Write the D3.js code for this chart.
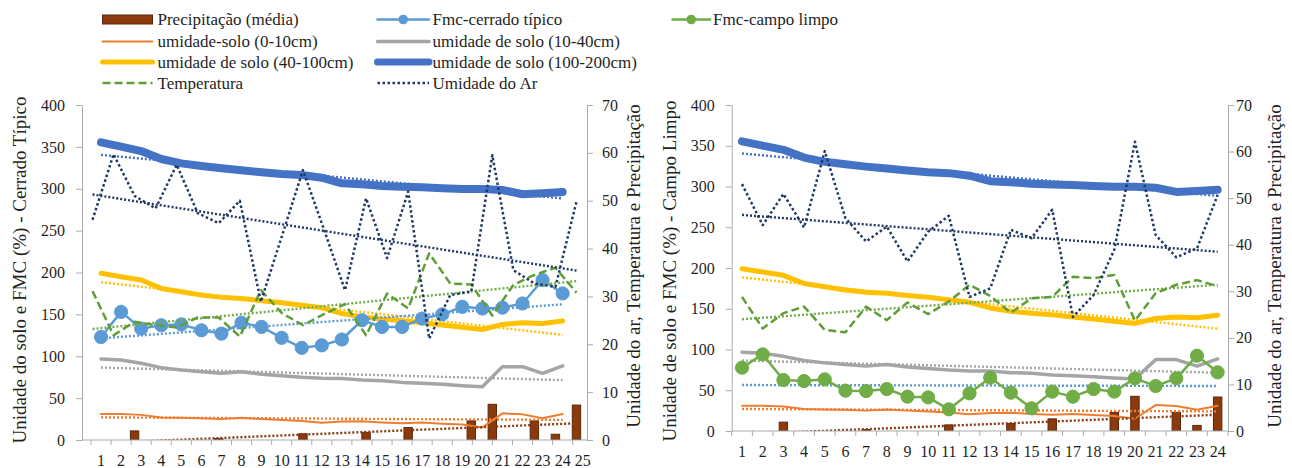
<!DOCTYPE html>
<html><head><meta charset="utf-8">
<script src="https://cdn.jsdelivr.net/npm/d3@7"></script>
<style>
body{margin:0;background:#fff;}
</style></head><body>
<svg id="c" width="1292" height="468"></svg>
<script>
// ---------------- DATA ----------------
const catsLeft = ["1","2","3","4","5","6","7","8","9","10","11","12","13","14","15","16","17","18","19","20","21","22","23","24","25"];
const catsRight = ["1","2","3","4","5","6","7","8","9","10","11","12","13","14","15","16","17","18","19","20","21","22","23","24"];
const yTicksLeft = [0,50,100,150,200,250,300,350,400];
const yTicksRight = [0,10,20,30,40,50,60,70];

const soil0_10   = [31,31,30,27,26.5,26,25,26.5,25,24,22.7,20.7,22,22.5,21,20,21,19.5,18.5,15,31.8,30.6,26,31];
const soil10_40  = [96.7,95.5,91.6,86.4,83.6,81.6,79.6,81.6,78.4,76.8,74.8,73.6,73.5,71.6,70.8,68.8,67.7,66.5,64.9,63.7,87.6,87.6,79.6,88.4];
const soil40_100 = [199,195,191,181,177,173,170.3,169,166.3,164,161,158,151,147,144.5,142.5,140,137.3,134.6,132,138,140,139,142];
const soil100_200= [355.4,350.2,345,335.5,330.3,327.2,324.4,322,319.6,317.6,316.4,313.2,306.5,305.3,303.3,302.5,301.7,300.5,299.7,299.7,298.5,293.4,294.5,296];
const fmcCerrado = [123,153,133,137,138,131,127,140,135,122,110,113,120,143,135,135,145,150,159,157,158,163,191,175];
const fmcCampo   = [77.7,94,62.6,61.3,63.4,49.5,49,51.5,42.1,41.3,26.6,46.2,65.4,47,27.8,48.3,42.1,51.5,48.3,64.6,55.2,64.6,92.4,72];
const precip     = [0,0,1.9,0,0,0,0.3,0,0,0,1.3,0,0,1.6,0,2.6,0,0,4.0,7.45,0,4.0,1.2,7.3];
const tempCerrado= [31.1,21.9,24.7,24,23.5,25.6,25.6,21.6,31.3,26.5,24,26.3,28.4,21.9,30.6,27.5,39,32.7,32.5,26,32.4,34.5,36,30.8];
const humCerrado = [46,59.7,51,48.4,57.5,47.4,45.3,50,28.9,42.6,56.4,44,31.3,50.5,38,51.9,21.2,30.3,31,59.5,35.5,32.7,32,49.8];
const tempCampo  = [28.8,22,25.3,26.7,21.7,21.2,26.7,23.8,27.6,25.1,27.8,31.4,29,25.4,28.5,28.8,33.1,32.8,33.5,23.7,29.6,31.4,32.4,31.1];
const humCampo   = [53,44.2,50.9,43.7,60.1,45.7,40.7,43.9,36.4,42.8,46.2,28.8,30.6,43.2,41.4,47.5,24.5,29.2,38.9,62.1,42.1,37.3,39.2,50.7];

// trendline values at first and last category
const trend0_10       = [27,24];
const trend10_40      = [86.5,71.5];
const trend40_100     = [188.5,125.5];
const trend100_200    = [340.5,288.5];
const trendFmcCerrado = [121.4,162];
const trendFmcCampo   = [56.4,55.2];
const trendTempCerrado= [23.2,33.2];
const trendHumCerrado = [51.3,35.4];
const trendTempCampo  = [24,31.4];
const trendHumCampo   = [46.4,38.5];
const trendPrecip     = [-0.7,3.5];

const legendLabels = ["Precipitação (média)","Fmc-cerrado típico","Fmc-campo limpo","umidade-solo (0-10cm)","umidade de solo (10-40cm)","umidade de solo (40-100cm)","umidade de solo (100-200cm)","Temperatura","Umidade do Ar"];
const titleLeft1 = "Unidade do solo e FMC (%) - Cerrado Típico";
const titleLeft2 = "Unidade de solo e FMC (%) - Campo Limpo";
const titleRight = "Unidade do ar, Temperatura e Precipitação";

// ---------------- STYLE ----------------
const FONT = "Liberation Serif, Times New Roman, DejaVu Serif, serif";
const TXT = "#1f1f1f";
const ST = {
  s0:{c:"#ED7D31",w:2},
  s1:{c:"#A5A5A5",w:3.5},
  s2:{c:"#FFC000",w:5},
  s3:{c:"#4472C4",w:8},
  fmcC:{c:"#5B9BD5",w:2.5},
  fmcL:{c:"#70AD47",w:2.5},
  temp:{c:"#5E9E37",w:2.5,dash:"8,4"},
  hum:{c:"#203864",w:2.5,dash:"2.5,2.5"},
  bar:{f:"#8B3A0E",s:"#5C2608"}
};
const axisColor = "#ababab";
const trendDash = "2,2";

const svg = d3.select("#c");

function drawChart(cfg){
  const g = svg.append("g");
  const yL = d3.scaleLinear().domain([0,400]).range([cfg.bottom,cfg.top]);
  const yR = d3.scaleLinear().domain([0,70]).range([cfg.bottom,cfg.top]);
  const xP = d3.scaleBand().domain(cfg.primCats).range(cfg.primRange);
  const xS = d3.scaleBand().domain(catsRight).range([cfg.left,cfg.right]);
  const P = {cats:cfg.primCats, cx:c=>xP(c)+xP.bandwidth()/2};
  const S = {cats:catsRight, cx:c=>xS(c)+xS.bandwidth()/2};

  const clipId = "clip"+cfg.id;
  svg.append("clipPath").attr("id",clipId).append("rect")
    .attr("x",cfg.left).attr("y",cfg.top-12).attr("width",cfg.right-cfg.left).attr("height",cfg.bottom-cfg.top+12);
  const plot = g.append("g").attr("clip-path",`url(#${clipId})`);

  const linePath = (vals,ax,y)=>d3.line().x((d,i)=>ax.cx(ax.cats[i])).y(d=>y(d))(vals);
  const trendPath = (tv,ax,y)=>d3.line().x((d,i)=>ax.cx(i===0?ax.cats[0]:ax.cats[23])).y(d=>y(d))(tv);
  function trend(tv,ax,y,color){
    plot.append("path").attr("d",trendPath(tv,ax,y)).attr("fill","none")
      .attr("stroke",color).attr("stroke-width",2.4).attr("stroke-dasharray",trendDash);
  }
  function series(vals,ax,y,st,markers){
    plot.append("path").attr("d",linePath(vals,ax,y)).attr("fill","none")
      .attr("stroke",st.c).attr("stroke-width",st.w).attr("stroke-linejoin","round")
      .attr("stroke-linecap",st.dash?"butt":"round").attr("stroke-dasharray",st.dash||null);
    if(markers){
      plot.selectAll(null).data(vals).enter().append("circle")
        .attr("cx",(d,i)=>ax.cx(ax.cats[i])).attr("cy",d=>y(d)).attr("r",6.6)
        .attr("fill",st.c).attr("stroke",st.c).attr("stroke-width",1);
    }
  }

  // bars (secondary axis)
  plot.selectAll("rect.bar").data(precip.map((v,i)=>({v,c:catsRight[i]})).filter(d=>d.v>0)).enter().append("rect")
    .attr("class","bar")
    .attr("x",d=>S.cx(d.c)-4.2).attr("width",8.4)
    .attr("y",d=>yR(d.v)).attr("height",d=>cfg.bottom-yR(d.v))
    .attr("fill",ST.bar.f).attr("stroke",ST.bar.s).attr("stroke-width",1);

  // primary
  trend(trend0_10,P,yL,ST.s0.c);         series(soil0_10,P,yL,ST.s0);
  trend(trend10_40,P,yL,ST.s1.c);        series(soil10_40,P,yL,ST.s1);
  trend(trend40_100,P,yL,ST.s2.c);       series(soil40_100,P,yL,ST.s2);
  trend(trend100_200,P,yL,ST.s3.c);      series(soil100_200,P,yL,ST.s3);
  trend(cfg.fmcTrend,P,yL,ST.fmcC.c);    series(cfg.fmc,P,yL,cfg.fmcStyle,true);
  // secondary
  trend(trendPrecip,S,yR,ST.bar.f);
  trend(cfg.tempTrend,S,yR,"#70AD47");   series(cfg.temp,S,yR,ST.temp);
  trend(cfg.humTrend,S,yR,ST.hum.c);     series(cfg.hum,S,yR,ST.hum);

  // axes
  const fontAx = sel=>sel.attr("font-family",FONT).attr("font-size",16);
  const ax1 = g.append("g").attr("transform",`translate(${cfg.left},0)`)
    .call(d3.axisLeft(yL).tickValues(yTicksLeft).tickSize(6).tickSizeOuter(0).tickPadding(11)).call(fontAx);
  const ax2 = g.append("g").attr("transform",`translate(${cfg.right},0)`)
    .call(d3.axisRight(yR).tickValues(yTicksRight).tickSize(6).tickSizeOuter(0).tickPadding(cfg.rPad)).call(fontAx);
  const ax3 = g.append("g").attr("transform",`translate(0,${cfg.bottom})`)
    .call(d3.axisBottom(xP).tickSize(0).tickPadding(14.5)).call(fontAx);
  ax3.select(".domain").remove();
  g.append("line").attr("x1",cfg.left).attr("x2",cfg.right).attr("y1",cfg.bottom).attr("y2",cfg.bottom).attr("stroke",axisColor);
  const last = cfg.primCats[cfg.primCats.length-1];
  const tickXs = cfg.primCats.map(c=>xP(c)).concat([xP(last)+xP.bandwidth()]).filter(x=>x<=cfg.right+0.5);
  g.selectAll(null).data(tickXs).enter().append("line")
    .attr("x1",d=>d).attr("x2",d=>d).attr("y1",cfg.bottom).attr("y2",cfg.bottom+5).attr("stroke",axisColor);
  [ax1,ax2].forEach(a=>{a.selectAll("path,line").attr("stroke",axisColor);});
  g.selectAll(".tick text").attr("fill",TXT);

  // titles
  g.append("text").attr("transform",`translate(${cfg.lTitleX},${cfg.lTitleY}) rotate(-90)`)
    .attr("text-anchor","middle").attr("font-family",FONT).attr("font-size",cfg.titleSize).attr("fill",TXT).text(cfg.lTitle);
  g.append("text").attr("transform",`translate(${cfg.rTitleX},${cfg.rTitleY}) rotate(-90)`)
    .attr("text-anchor","middle").attr("font-family",FONT).attr("font-size",cfg.titleSize).attr("fill",TXT).text(titleRight);
}

const stepL = 20.07;
drawChart({id:"L",left:82,right:587,top:105,bottom:440,primCats:catsLeft,primRange:[91,91+25*stepL],
  fmc:fmcCerrado,fmcTrend:trendFmcCerrado,fmcStyle:ST.fmcC,temp:tempCerrado,tempTrend:trendTempCerrado,
  hum:humCerrado,humTrend:trendHumCerrado,rPad:9,titleSize:19,lTitle:titleLeft1,lTitleX:26,lTitleY:270,rTitleX:640,rTitleY:266});
drawChart({id:"R",left:731.7,right:1228,top:105,bottom:431,primCats:catsRight,primRange:[731.7,1228],
  fmc:fmcCampo,fmcTrend:trendFmcCampo,fmcStyle:ST.fmcL,temp:tempCampo,tempTrend:trendTempCampo,
  hum:humCampo,humTrend:trendHumCampo,rPad:2,titleSize:19,lTitle:titleLeft2,lTitleX:676,lTitleY:271,rTitleX:1281,rTitleY:266});

// legend
const colSym = [[102.5,152.5],[377.5,429],[672.5,710]];
const colTxt = [157.5,432.5,713];
const rowY = [19.5,41.5,62,83];
const legPos = [[0,0],[1,0],[2,0],[0,1],[1,1],[0,2],[1,2],[0,3],[1,3]];
const legSt = [null,ST.fmcC,ST.fmcL,ST.s0,ST.s1,ST.s2,ST.s3,ST.temp,ST.hum];
const legW = [0,2.5,2.5,2,3.5,5,7,2.5,2.5];
const lg = svg.append("g");
legendLabels.forEach((lab,i)=>{
  const [c,r] = legPos[i]; const y = rowY[r]; const [x0,x1] = colSym[c];
  if(i===0){
    lg.append("rect").attr("x",x0).attr("y",y-4.5).attr("width",x1-x0).attr("height",9)
      .attr("fill",ST.bar.f).attr("stroke",ST.bar.s).attr("stroke-width",1);
  } else {
    const st = legSt[i];
    lg.append("line").attr("x1",x0).attr("x2",x1).attr("y1",y).attr("y2",y)
      .attr("stroke",st.c).attr("stroke-width",legW[i]).attr("stroke-linecap",st.dash?"butt":"round")
      .attr("stroke-dasharray",st.dash||null);
    if(i===1||i===2) lg.append("circle").attr("cx",(x0+x1)/2).attr("cy",y).attr("r",4.8).attr("fill",st.c);
  }
  lg.append("text").attr("x",colTxt[c]).attr("y",y).attr("dy","0.35em").attr("font-size",17)
    .attr("font-family",FONT).attr("fill",TXT).text(lab);
});
</script></body></html>
